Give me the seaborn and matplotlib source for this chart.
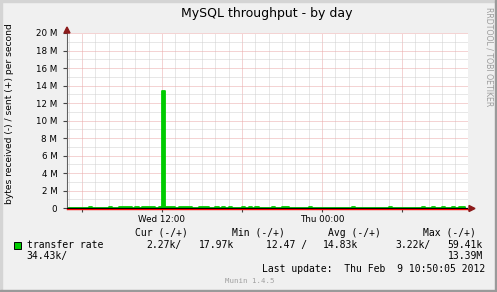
import numpy as np
import pandas as pd
import matplotlib
matplotlib.use("Agg")
import matplotlib.pyplot as plt
import matplotlib.dates as mdates
from matplotlib.patches import Rectangle, Polygon
from matplotlib.ticker import MultipleLocator, FuncFormatter
import seaborn as sns

# ---------------- data ----------------
title = "MySQL throughput - by day"
ylabel = "bytes received (-) / sent (+) per second"
series_label = "transfer rate"
start_time = "2012-02-08 05:00"
sample_freq = "15min"
# sent bytes per second, 15-minute samples
sent_values = [
    28e3, 31e3, 26e3, 34e3, 29e3, 27e3, 140e3, 33e3, 30e3, 28e3,
    32e3, 29e3, 130e3, 35e3, 31e3, 150e3, 160e3, 140e3, 150e3, 36e3,
    140e3, 38e3, 150e3, 170e3, 140e3, 130e3, 40e3, 150e3, 13390e3, 160e3,
    150e3, 140e3, 42e3, 150e3, 160e3, 170e3, 140e3, 38e3, 35e3, 130e3,
    150e3, 140e3, 37e3, 33e3, 130e3, 36e3, 140e3, 34e3, 130e3, 32e3,
    30e3, 33e3, 150e3, 31e3, 130e3, 29e3, 140e3, 32e3, 30e3, 28e3,
    31e3, 130e3, 29e3, 27e3, 150e3, 140e3, 30e3, 26e3, 28e3, 25e3,
    27e3, 24e3, 130e3, 26e3, 23e3, 25e3, 22e3, 24e3, 21e3, 23e3,
    20e3, 22e3, 19e3, 21e3, 18e3, 140e3, 20e3, 17e3, 19e3, 18e3,
    16e3, 18e3, 15e3, 17e3, 19e3, 16e3, 130e3, 18e3, 20e3, 22e3,
    24e3, 23e3, 26e3, 25e3, 28e3, 27e3, 130e3, 29e3, 31e3, 140e3,
    30e3, 33e3, 150e3, 32e3, 35e3, 150e3, 34e3, 160e3, 150e3, 36e3,
]
stat_names = ["Cur", "Min", "Avg", "Max"]
stat_recv = ["2.27k", "12.47", "3.22k", "34.43k"]
stat_sent = ["17.97k", "14.83k", "59.41k", "13.39M"]
last_update = "Last update:  Thu Feb  9 10:50:05 2012"
version = "Munin 1.4.5"
watermark = "RRDTOOL / TOBI OETIKER"
x_start, x_end = "2012-02-08 04:52:30", "2012-02-09 10:57:00"

times = pd.date_range(start_time, periods=len(sent_values), freq=sample_freq)
df = pd.DataFrame({"time": times, "sent": sent_values})

# ---------------- layout ----------------
W, H = 497, 292
fig = plt.figure(figsize=(W / 100, H / 100), dpi=100)
fig.patch.set_facecolor("#F0F0F0")

def fx(x):
    return x / W

def fy(y):
    return 1 - y / H

# frame bevel
fig.patches.append(Rectangle((0, 0), fx(2), 1, transform=fig.transFigure, color="#D4D4D4", zorder=0))
fig.patches.append(Rectangle((0, fy(2)), 1, 2 / H, transform=fig.transFigure, color="#D4D4D4", zorder=0))
fig.patches.append(Rectangle((fx(W - 2), 0), fx(2), 1, transform=fig.transFigure, color="#9A9A9A", zorder=0))
fig.patches.append(Rectangle((0, 0), 1, 2 / H, transform=fig.transFigure, color="#9A9A9A", zorder=0))

ax = fig.add_axes([fx(67), fy(209), fx(468) - fx(67), fy(33) - fy(209)])
ax.set_facecolor("white")

sns.lineplot(data=df, x="time", y="sent", ax=ax, color="#00CC00",
             linewidth=1.3, drawstyle="steps-post", zorder=3)
ax.fill_between(df["time"], df["sent"], step="post", color="#00CC00", lw=0, zorder=3)
ax.axhline(0, color="black", lw=0.9, zorder=4)

ax.set_xlim(pd.Timestamp(x_start), pd.Timestamp(x_end))
ax.set_ylim(-0.114e6, 20e6)

ax.xaxis.set_major_locator(mdates.HourLocator(byhour=[0, 6, 12, 18]))
ax.xaxis.set_minor_locator(mdates.HourLocator())

def xfmt(v, pos):
    d = mdates.num2date(v)
    if d.hour in (0, 12):
        return d.strftime("%a %H:%M")
    return ""

ax.xaxis.set_major_formatter(FuncFormatter(xfmt))
ax.yaxis.set_major_locator(MultipleLocator(2e6))
ax.yaxis.set_minor_locator(MultipleLocator(1e6))
ax.yaxis.set_major_formatter(FuncFormatter(lambda v, p: "0" if abs(v) < 1 else f"{v / 1e6:.0f} M"))

ax.set_axisbelow(True)
ax.grid(which="minor", color="#D0D0D0", lw=0.72, linestyle=(0, (1, 1)))
ax.grid(which="major", color="#EBA8A8", lw=0.72, linestyle=(0, (1, 1)))

ax.tick_params(axis="y", which="major", length=3, width=0.8, color="#444444",
               labelsize=6.3, pad=4, labelcolor="black")
ax.tick_params(axis="x", which="major", length=2, width=0.8, color="#444444",
               labelsize=6.3, pad=2.5, labelcolor="black")
ax.tick_params(which="minor", length=0)
ax.set_xlabel("")
ax.set_ylabel("")

for s in ["top", "right"]:
    ax.spines[s].set_visible(False)
ax.spines["left"].set_color("#606060")
ax.spines["left"].set_linewidth(0.8)
ax.spines["bottom"].set_color("#FF0000")
ax.spines["bottom"].set_linewidth(1.0)

# axis arrows
fig.patches.append(Polygon([(fx(64), fy(33)), (fx(70), fy(33)), (fx(67), fy(27))],
                           closed=True, transform=fig.transFigure, color="#8B1A1A", zorder=5))
fig.lines.append(plt.Line2D([fx(468), fx(470)], [fy(208.6), fy(208.6)], transform=fig.transFigure,
                            color="#FF0000", lw=1.0))
fig.patches.append(Polygon([(fx(469), fy(205.5)), (fx(469), fy(211.5)), (fx(475), fy(208.5))],
                           closed=True, transform=fig.transFigure, color="#8B1A1A", zorder=5))

# texts
fig.text(fx(266.5), fy(13.5), title, ha="center", va="center", fontsize=9, family="DejaVu Sans")
fig.text(fx(10), fy(114), ylabel, ha="center", va="center", rotation=90, fontsize=6.6,
         family="DejaVu Sans")
fig.text(fx(489), fy(56.5), watermark, ha="center", va="center", rotation=270, fontsize=5.6,
         color="#9C9C9C", family="DejaVu Sans")

mono = dict(family="DejaVu Sans Mono", fontsize=7, va="center", ha="left")
hdr_x = [134.7, 231.7, 328.3, 423.3]
for name, x in zip(stat_names, hdr_x):
    fig.text(fx(x), fy(232.7), f"{name} (-/+)", **mono)

fig.patches.append(Rectangle((fx(13.5), fy(248.5)), 7 / W, 7 / H, transform=fig.transFigure,
                             facecolor="#00CC00", edgecolor="black", lw=0.7, zorder=5))
fig.text(fx(26.7), fy(244.7), series_label, **mono)
row2 = [(146.7, stat_recv[0] + "/"), (198.7, stat_sent[0]),
        (266.0, stat_recv[1] + " /"), (323.3, stat_sent[1]),
        (395.7, stat_recv[2] + "/"), (447.7, stat_sent[2])]
for x, t in row2:
    fig.text(fx(x), fy(244.7), t, **mono)
fig.text(fx(26.7), fy(256.3), stat_recv[3] + "/", **mono)
fig.text(fx(447.7), fy(256.3), stat_sent[3], **mono)
fig.text(fx(261.7), fy(269.3), last_update, **mono)
fig.text(fx(225), fy(281), version, family="DejaVu Sans Mono", fontsize=5.3, va="center",
         ha="left", color="#A0A0A0")

fig.savefig("out.png", dpi=100, facecolor=fig.get_facecolor())
